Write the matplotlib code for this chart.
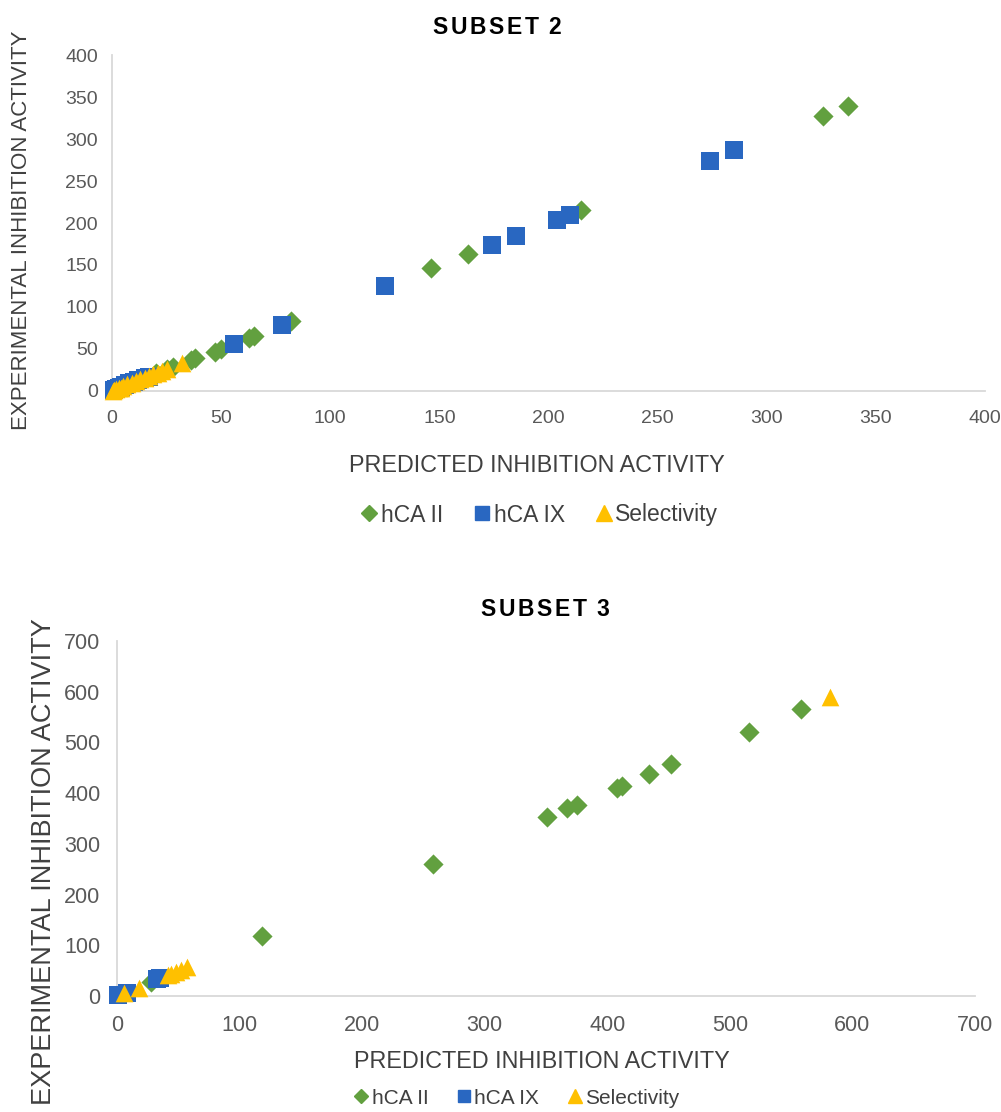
import matplotlib
matplotlib.use("Agg")
import matplotlib.pyplot as plt
from matplotlib.lines import Line2D

# ---------------- data: SUBSET 2 ----------------
s2_ii_pred = [337, 326, 215, 163, 146, 82, 65, 63, 50, 47, 38, 36, 28, 25, 20, 12, 5]
s2_ii_exp  = [339, 327, 216, 163, 146, 83, 65, 63, 50, 47, 39, 37, 28, 26, 21, 13, 6]
s2_ix_pred = [285, 274, 210, 204, 185, 174, 125, 78, 56, 17, 15, 12, 10, 8, 6, 4, 3, 2, 1]
s2_ix_exp  = [287, 274, 210, 204, 185, 174, 125, 78, 56, 17, 15, 13, 11, 9, 7, 5, 4, 2, 1]
s2_sel_pred = [32, 25, 23, 21, 19, 17, 15, 13, 11, 9, 7, 5, 4, 3, 2, 1, 0.5]
s2_sel_exp  = [33, 26, 24, 22, 20, 18, 16, 14, 12, 10, 8, 6, 4, 3, 2, 1, 0.5]

# ---------------- data: SUBSET 3 ----------------
s3_ii_pred = [558, 516, 452, 434, 412, 408, 375, 367, 351, 258, 118, 28]
s3_ii_exp  = [566, 520, 457, 437, 414, 411, 377, 370, 352, 260, 119, 28]
s3_ix_pred = [1, 8, 33, 35]
s3_ix_exp  = [1, 6, 33, 36]
s3_sel_pred = [582, 57, 52, 48, 44, 42, 18, 6]
s3_sel_exp  = [590, 57, 52, 48, 44, 42, 16, 6]

x_ticks_2 = [0, 50, 100, 150, 200, 250, 300, 350, 400]
y_ticks_2 = [0, 50, 100, 150, 200, 250, 300, 350, 400]
x_ticks_3 = [0, 100, 200, 300, 400, 500, 600, 700]
y_ticks_3 = [0, 100, 200, 300, 400, 500, 600, 700]

series_names = ["hCA II", "hCA IX", "Selectivity"]

GREEN = "#62A03F"
BLUE = "#2967C1"
GOLD = "#FFC000"
TICK_C = "#595959"
LABEL_C = "#404040"
AX_C = "#D9D9D9"
FONT = ["Liberation Sans", "DejaVu Sans"]

plt.rcParams["font.family"] = FONT

fig = plt.figure(figsize=(10.01, 11.12), dpi=100)
W, H = 1001, 1112
renderer = fig.canvas.get_renderer()


def fx(px):
    return px / W


def fy(py):
    return 1 - py / H


def ax_rect(l, r, t, b):
    return [l / W, 1 - b / H, (r - l) / W, (b - t) / H]


def spaced_title(text, cx, cy, fs, spacing):
    # measure characters, then place them with extra letter spacing
    widths = []
    for ch in text:
        t = fig.text(0, 0, ch if ch != " " else "n", fontsize=fs, fontweight="bold")
        bb = t.get_window_extent(renderer)
        w = bb.width if ch != " " else bb.width * 0.35
        widths.append(w)
        t.remove()
    total = sum(widths) + spacing * (len(text) - 1)
    x = cx - total / 2
    for ch, w in zip(text, widths):
        if ch != " ":
            fig.text(fx(x), fy(cy), ch, fontsize=fs, fontweight="bold", color="black",
                     ha="left", va="center")
        x += w + spacing


def style(ax, xt, yt, tick_fs, xpad, ypad):
    for s in ["top", "right"]:
        ax.spines[s].set_visible(False)
    for s in ["left", "bottom"]:
        ax.spines[s].set_color(AX_C)
        ax.spines[s].set_linewidth(1.3)
    ax.set_xticks(xt)
    ax.set_yticks(yt)
    ax.set_xlim(xt[0], xt[-1])
    ax.set_ylim(yt[0], yt[-1])
    ax.tick_params(length=0, labelsize=tick_fs, labelcolor=TICK_C)
    ax.tick_params(axis="x", pad=xpad)
    ax.tick_params(axis="y", pad=ypad)


def draw(ax, ii, ix, sel, ms):
    ax.scatter(ii[0], ii[1], marker="D", s=ms * 0.62, color=GREEN, zorder=3, clip_on=False, linewidths=0)
    ax.scatter(ix[0], ix[1], marker="s", s=ms, color=BLUE, zorder=4, clip_on=False, linewidths=0)
    ax.scatter(sel[0], sel[1], marker="^", s=ms * 0.95, color=GOLD, zorder=5, clip_on=False, linewidths=0)


def legend(x_center, y, fs, msc=1.0):
    handles = [
        Line2D([], [], marker="D", color=GREEN, ls="none", markersize=7 * msc),
        Line2D([], [], marker="s", color=BLUE, ls="none", markersize=9 * msc),
        Line2D([], [], marker="^", color=GOLD, ls="none", markersize=10 * msc),
    ]
    fig.legend(handles, series_names, loc="center", bbox_to_anchor=(fx(x_center), fy(y)),
               ncol=3, frameon=False, fontsize=fs, handletextpad=0.0, columnspacing=1.2,
               handlelength=1.0, labelcolor=LABEL_C)

# ---- SUBSET 2 ----
ax1 = fig.add_axes(ax_rect(112, 985, 55, 391))
style(ax1, x_ticks_2, y_ticks_2, 14, 14, 10)
draw(ax1, (s2_ii_pred, s2_ii_exp), (s2_ix_pred, s2_ix_exp), (s2_sel_pred, s2_sel_exp), 170)
spaced_title("SUBSET 2", 497, 27, 16.5, 2.6)
fig.text(fx(537), fy(465), "PREDICTED INHIBITION ACTIVITY", fontsize=16.8, color=LABEL_C,
         ha="center", va="center")
fig.text(fx(22), fy(230), "EXPERIMENTAL INHIBITION ACTIVITY", fontsize=16, color=LABEL_C,
         ha="center", va="center", rotation=90)
legend(538, 515, 16.5, 1.1)

# ---- SUBSET 3 ----
ax2 = fig.add_axes(ax_rect(117, 975, 641, 996))
style(ax2, x_ticks_3, y_ticks_3, 15.5, 14, 12)
draw(ax2, (s3_ii_pred, s3_ii_exp), (s3_ix_pred, s3_ix_exp), (s3_sel_pred, s3_sel_exp), 170)
spaced_title("SUBSET 3", 545, 610, 16.5, 2.6)
fig.text(fx(542), fy(1061), "PREDICTED INHIBITION ACTIVITY", fontsize=16.8, color=LABEL_C,
         ha="center", va="center")
fig.text(fx(44), fy(862), "EXPERIMENTAL INHIBITION ACTIVITY", fontsize=19.5, color=LABEL_C,
         ha="center", va="center", rotation=90)
legend(515, 1098, 15)

fig.savefig("out.png", dpi=100)
